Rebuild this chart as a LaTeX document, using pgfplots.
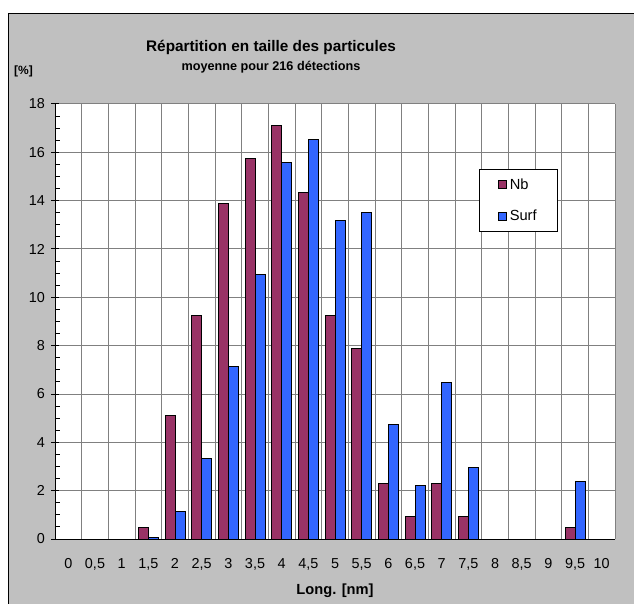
\documentclass[border=0pt]{standalone}
\usepackage{pgfplots}
\pgfplotsset{compat=1.18}
\usepackage{fontspec}
\setmainfont{Liberation Sans}
\definecolor{nbcol}{HTML}{993366}
\definecolor{surfcol}{HTML}{3366FF}
\definecolor{chartbg}{HTML}{C0C0C0}
\definecolor{gridcol}{HTML}{808080}

% one row per size class: Nb share, Surf share (in %)
\pgfplotstableread{
x   nb     surf
3   0.46   0.05
4   5.09   1.14
5   9.26   3.32
6   13.89  7.12
7   15.74  10.95
8   17.13  15.58
9   14.35  16.52
10  9.26   13.17
11  7.87   13.50
12  2.31   4.73
13  0.93   2.22
14  2.31   6.47
15  0.93   2.97
19  0.46   2.37
}\parts

\begin{document}
\begin{tikzpicture}[x=0.75pt,y=0.75pt]
% picture frame, 634 x 603 px
\useasboundingbox (0,0) rectangle (634,603);
\fill[white] (0,0) rectangle (634,603);
\draw[fill=chartbg, draw=black, line width=0.75pt] (8,-10) rectangle (645,589);

\node[font=\bfseries\fontsize{11.5}{13}\selectfont] at (271,556) {Répartition en taille des particules};
\node[font=\bfseries\fontsize{9.5}{11}\selectfont] at (271,535.5) {moyenne pour 216 détections};
\node[font=\bfseries\fontsize{9}{10}\selectfont] at (23.5,532) {[\%]};
\node[font=\bfseries\fontsize{11}{13}\selectfont] at (335,12.5) {Long. [nm]};

\begin{axis}[
    at={(41.25pt,48pt)}, anchor=south west,
    scale only axis,
    width=420pt, height=326.25pt,
    xmin=-0.5, xmax=20.5,
    ymin=0, ymax=18,
    axis background/.style={fill=white},
    axis x line*=bottom, axis y line*=left,
    axis line style={black, line width=0.75pt},
    xtick={0,...,20},
    xticklabels={0,{0,5},1,{1,5},2,{2,5},3,{3,5},4,{4,5},5,{5,5},6,{6,5},7,{7,5},8,{8,5},9,{9,5},10},
    minor xtick={-0.5,0.5,...,20.5},
    xmajorgrids=false, xminorgrids=true,
    ytick={0,2,...,18},
    minor y tick num=3,
    ymajorgrids=true,
    grid style={gridcol, line width=0.75pt},
    minor grid style={gridcol, line width=0.75pt},
    tick align=center,
    major tick length=6pt, minor tick length=3.75pt,
    x tick style={draw=none},
    minor x tick style={black, line width=0.75pt, yshift=-1.875pt},
    y tick style={black, line width=0.75pt},
    minor y tick style={black, line width=0.75pt, xshift=1.875pt, yshift=0pt},
    tick label style={font=\fontsize{10.8}{12}\selectfont},
    /pgf/number format/assume math mode=true,
    xticklabel style={anchor=base, yshift=-16pt},
    yticklabel style={xshift=-1pt},
    ybar=0pt, bar width=0.375,
    legend style={at={(0.757,0.851)}, anchor=north west, draw=black, fill=white,
        line width=0.75pt, font=\fontsize{11}{13}\selectfont,
        inner xsep=14pt, inner ysep=5pt, row sep=10pt, cells={anchor=west}},
    legend image code/.code={\draw[#1, line width=0.75pt] (0pt,-3pt) rectangle (6pt,3pt);},
]
\addplot[fill=nbcol, draw=black, line width=0.75pt, bar shift=-0.1875] table[x=x, y=nb] {\parts};
\addplot[fill=surfcol, draw=black, line width=0.75pt, bar shift=0.1875] table[x=x, y=surf] {\parts};
\legend{Nb, Surf}
\end{axis}
\end{tikzpicture}
\end{document}
